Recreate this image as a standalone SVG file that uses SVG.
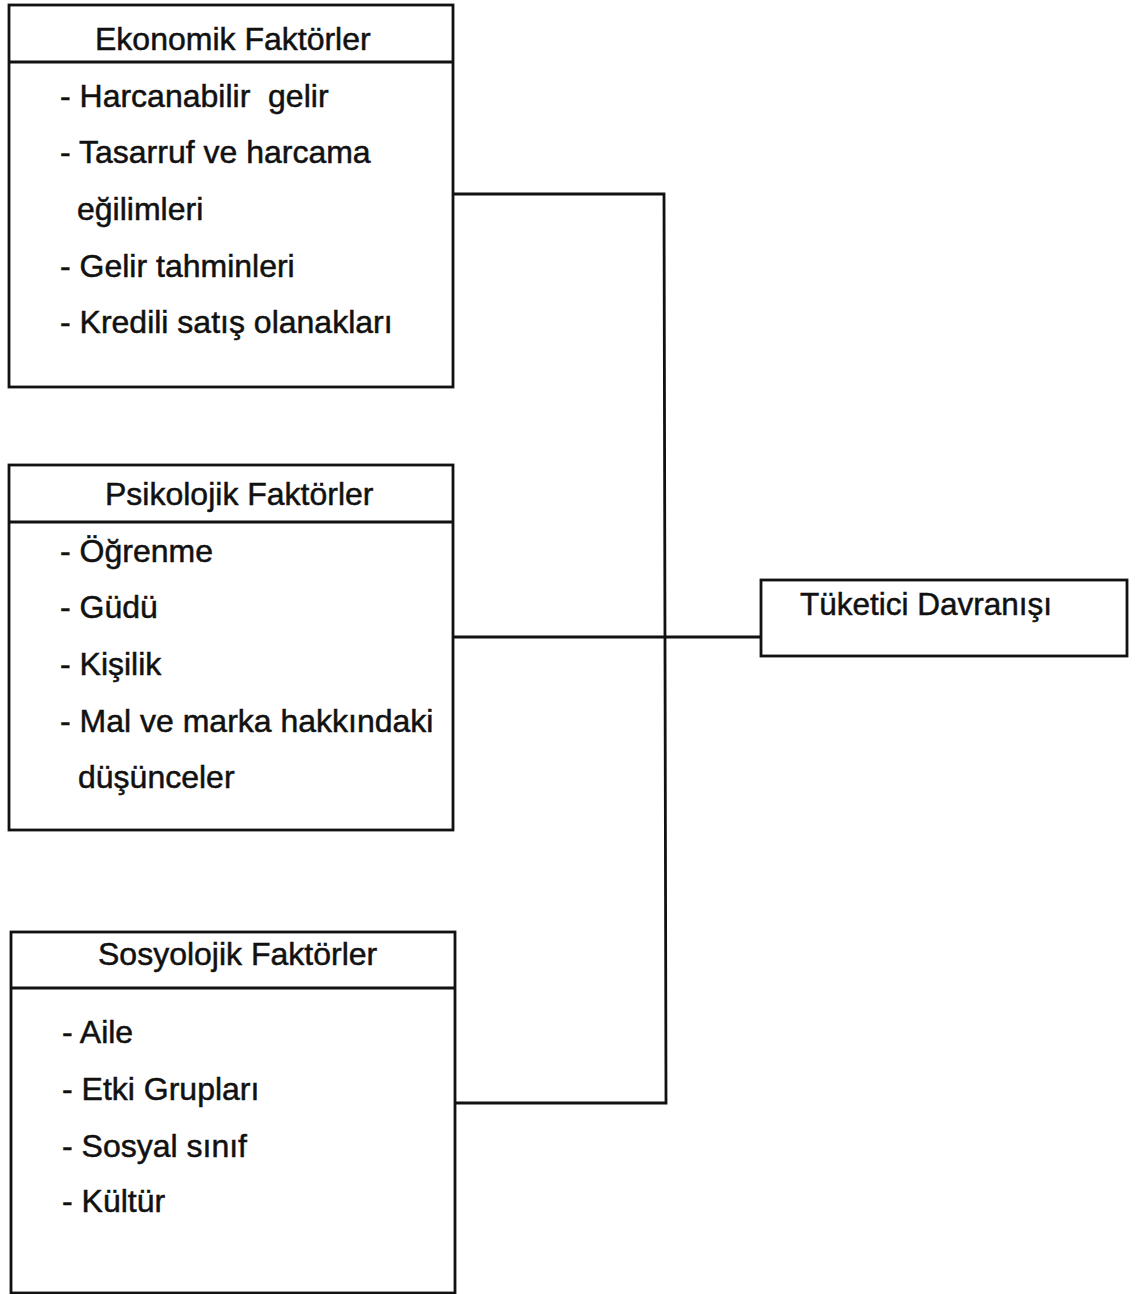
<svg xmlns="http://www.w3.org/2000/svg" width="1141" height="1294" viewBox="0 0 1141 1294">
  <style>
    .box { fill: #ffffff; stroke: #111111; stroke-width: 2.8; }
    .rule { stroke: #111111; stroke-width: 2.8; fill: none; }
    .wire { stroke: #111111; stroke-width: 2.8; fill: none; stroke-linejoin: miter; }
    text { font-family: "Liberation Sans", Arial, sans-serif; font-size: 32px; fill: #111111; stroke: #111111; stroke-width: 0.5; white-space: pre; }
  </style>

  <rect width="1141" height="1294" fill="#ffffff"/>

  <!-- connectors: three factor boxes feed into one trunk -->
  <g id="connectors">
    <path class="wire" d="M453 194 H664 L666 1103 H455"/>
    <path class="wire" d="M453 637 H761"/>
  </g>

  <!-- economic factors -->
  <g id="node-ekonomik">
    <rect class="box" x="9" y="5" width="444" height="382"/>
    <line class="rule" x1="9" y1="62" x2="453" y2="62"/>
    <text x="95" y="50">Ekonomik Faktörler</text>
    <text x="60" y="107">- Harcanabilir  gelir</text>
    <text x="60" y="163">- Tasarruf ve harcama</text>
    <text x="77" y="220">eğilimleri</text>
    <text x="60" y="277">- Gelir tahminleri</text>
    <text x="60" y="333">- Kredili satış olanakları</text>
  </g>

  <!-- psychological factors -->
  <g id="node-psikolojik">
    <rect class="box" x="9" y="465" width="444" height="365"/>
    <line class="rule" x1="9" y1="522" x2="453" y2="522"/>
    <text x="105" y="505">Psikolojik Faktörler</text>
    <text x="60" y="562">- Öğrenme</text>
    <text x="60" y="618">- Güdü</text>
    <text x="60" y="675">- Kişilik</text>
    <text x="60" y="732">- Mal ve marka hakkındaki</text>
    <text x="78" y="788">düşünceler</text>
  </g>

  <!-- sociological factors -->
  <g id="node-sosyolojik">
    <rect class="box" x="11" y="932" width="444" height="361"/>
    <line class="rule" x1="11" y1="988" x2="455" y2="988"/>
    <text x="98" y="965">Sosyolojik Faktörler</text>
    <text x="62" y="1043">- Aile</text>
    <text x="62" y="1100">- Etki Grupları</text>
    <text x="62" y="1157">- Sosyal sınıf</text>
    <text x="62" y="1212">- Kültür</text>
  </g>

  <!-- consumer behaviour -->
  <g id="node-tuketici">
    <rect class="box" x="761" y="580" width="366" height="76"/>
    <text x="800" y="615" textLength="252" lengthAdjust="spacingAndGlyphs">Tüketici Davranışı</text>
  </g>
</svg>
